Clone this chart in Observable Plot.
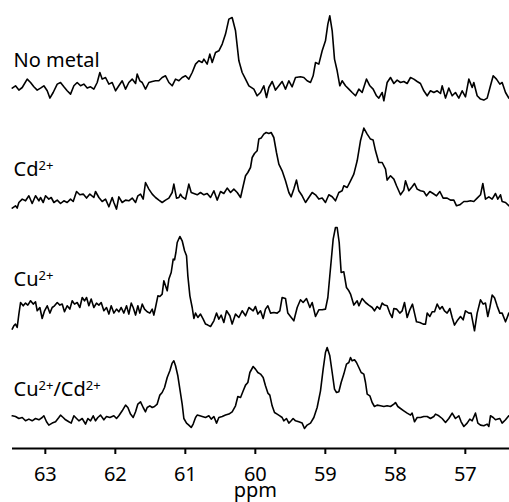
<!DOCTYPE html>
<html>
<head>
<meta charset="utf-8">
<script src="https://cdn.jsdelivr.net/npm/d3@7"></script>
<script src="https://cdn.jsdelivr.net/npm/@observablehq/plot@0.6"></script>
<style>
  html, body { margin: 0; padding: 0; background: #fff; }
</style>
</head>
<body>
<script>
const spectra = ["No metal", "Cd²⁺", "Cu²⁺", "Cu²⁺/Cd²⁺"];
const labelIntensity = [23.7, 24, 23, 22];
const xTicks = [63, 62, 61, 60, 59, 58, 57];
const axisTitle = "ppm";
const axisTitlePpm = 60;

const ppmNoMetal = [63.473,63.426,63.378,63.330,63.259,63.211,63.164,63.116,63.069,63.021,62.973,62.935,62.888,62.830,62.783,62.735,62.688,62.640,62.592,62.545,62.497,62.450,62.402,62.354,62.307,62.259,62.221,62.188,62.140,62.092,62.045,61.997,61.950,61.902,61.854,61.807,61.759,61.711,61.688,61.650,61.616,61.569,61.521,61.473,61.426,61.378,61.331,61.283,61.235,61.188,61.140,61.092,61.045,60.997,60.950,60.902,60.854,60.807,60.759,60.735,60.688,60.650,60.616,60.569,60.521,60.473,60.426,60.378,60.331,60.283,60.235,60.188,60.140,60.092,
60.021,59.974,59.926,59.879,59.840,59.807,59.759,59.712,59.664,59.617,59.569,59.521,59.474,59.426,59.355,59.307,59.260,59.212,59.174,59.140,59.093,59.045,58.998,58.964,58.936,58.902,58.869,58.831,58.793,58.760,58.712,58.664,58.617,58.569,58.521,58.474,58.412,58.364,58.317,58.269,58.236,58.188,58.164,58.117,58.069,58.021,57.974,57.926,57.879,57.831,57.783,57.736,57.688,57.641,57.593,57.545,57.498,57.450,57.402,57.355,57.331,57.283,57.236,57.188,57.141,57.093,57.045,56.998,56.950,56.902,56.879,56.831,56.783,56.736,56.688,56.641,56.602,56.555,56.507,56.474,56.426,56.379];
const intNoMetal = [2.7,5.0,0.7,3.3,11.7,8.3,4.0,0.7,2.7,5.0,0.0,-7.3,-1.7,6.7,8.3,4.0,0.0,-3.3,5.0,8.3,5.0,6.7,2.7,4.0,1.7,8.3,18.3,11.7,13.3,6.7,8.3,0.0,5.0,10.0,1.7,8.3,11.7,7.3,16.7,10.0,8.3,1.7,8.3,9.3,10.0,10.0,13.3,15.0,8.3,5.0,11.7,10.0,13.3,15.0,11.7,18.3,26.7,30.0,28.3,31.7,26.7,36.7,28.3,38.3,40.0,46.7,56.7,71.7,73.3,60.0,30.0,18.3,11.7,5.0,
1.7,-5.0,-1.7,5.0,-6.7,3.3,9.3,0.7,5.0,9.3,1.7,10.0,4.0,13.3,14.0,13.3,10.0,8.3,15.0,28.3,26.7,40.0,50.0,66.7,75.0,60.0,31.7,20.0,5.0,10.0,5.0,1.7,-1.7,-5.0,1.7,-1.7,11.7,5.0,1.7,-5.0,-7.3,-1.7,-10.0,8.3,13.3,7.3,10.7,8.3,9.3,7.3,13.3,11.7,9.3,7.3,0.0,-5.0,0.0,-1.7,0.0,-2.7,5.0,-7.3,2.7,-5.0,-1.7,-7.3,0.0,-6.0,11.7,3.3,8.3,-5.0,-8.3,-9.3,-7.3,5.0,15.0,11.7,6.7,8.3,-1.7,-7.3];

const ppmCd = [63.473,63.426,63.402,63.378,63.330,63.283,63.235,63.188,63.140,63.092,63.069,63.030,62.997,62.950,62.916,62.878,62.830,62.783,62.735,62.688,62.640,62.602,62.554,62.507,62.459,62.411,62.364,62.307,62.283,62.235,62.188,62.140,62.092,62.045,62.021,61.983,61.950,61.902,61.854,61.807,61.759,61.711,61.678,61.640,61.602,61.569,61.521,61.473,61.426,61.378,61.331,61.283,61.235,61.188,61.164,61.126,61.092,61.069,61.045,60.997,60.950,60.916,60.878,60.830,60.783,60.735,60.688,60.640,60.592,60.545,60.497,60.450,60.402,60.354,60.307,60.259,60.211,60.173,60.140,60.107,
60.069,60.045,60.012,59.974,59.950,59.917,59.879,59.845,59.807,59.774,59.736,59.698,59.664,59.617,59.569,59.521,59.488,59.450,59.412,59.379,59.331,59.283,59.236,59.188,59.140,59.093,59.045,58.998,58.950,58.902,58.855,58.807,58.760,58.736,58.688,58.640,58.593,58.545,58.498,58.450,58.402,58.355,58.317,58.283,58.236,58.188,58.140,58.117,58.069,58.021,57.983,57.926,57.879,57.855,57.807,57.760,57.726,57.688,57.641,57.593,57.555,57.507,57.460,57.412,57.364,57.317,57.260,57.212,57.164,57.126,57.079,57.021,56.974,56.926,56.879,56.831,56.783,56.750,56.712,56.664,56.617,56.569,56.536,56.498,56.474,56.426,56.379];
const intCd = [-8.3,-6.0,-8.3,-2.7,0.7,-1.0,4.0,-3.7,4.0,-1.0,2.3,-2.7,4.0,0.7,2.3,-2.7,-0.3,-3.7,-1.0,-2.7,0.7,-1.7,8.3,5.0,5.7,1.7,5.7,2.3,8.3,2.3,-1.7,0.7,-7.0,2.3,-2.7,-9.3,3.0,-2.7,-0.3,-1.0,1.7,-2.7,4.0,5.7,0.7,17.3,10.7,5.7,2.3,-0.3,-2.7,-0.3,1.7,7.3,15.7,1.7,2.3,5.7,3.0,0.7,15.7,7.3,6.3,5.0,7.3,5.0,6.3,2.3,9.0,-0.3,8.3,6.3,11.7,7.3,10.7,7.3,2.3,14.0,24.0,27.3,
32.3,42.3,46.3,49.0,60.7,61.7,65.7,67.3,66.3,67.3,62.3,47.3,35.7,29.0,19.0,7.3,3.0,10.7,19.7,9.0,4.0,-2.7,2.3,7.3,5.0,0.7,1.7,-2.7,5.0,3.0,-1.0,7.3,9.0,14.0,12.3,19.0,25.7,39.0,59.0,71.7,65.7,60.7,59.7,49.0,37.3,37.3,30.7,19.7,24.0,20.7,14.0,5.0,9.7,19.0,9.0,13.0,16.3,10.7,9.0,8.3,4.0,8.3,6.3,4.0,8.3,1.7,1.7,-0.3,-0.3,-6.0,-5.0,-1.7,-1.7,-1.0,-1.7,1.7,5.0,16.3,0.7,3.0,0.7,6.3,0.7,5.0,-1.7,-2.7,-6.0];

const ppmCu = [63.473,63.450,63.426,63.402,63.378,63.354,63.316,63.283,63.250,63.211,63.173,63.140,63.116,63.078,63.045,63.011,62.973,62.935,62.902,62.869,62.830,62.792,62.759,62.726,62.688,62.650,62.616,62.583,62.545,62.507,62.473,62.440,62.411,62.378,62.345,62.307,62.269,62.235,62.202,62.164,62.126,62.092,62.059,62.021,61.983,61.950,61.916,61.878,61.840,61.807,61.773,61.745,61.711,61.678,61.650,61.616,61.583,61.545,61.507,61.473,61.450,61.426,61.392,61.364,61.331,61.307,61.283,61.259,61.235,61.202,61.173,61.154,61.135,61.116,61.078,61.045,61.011,60.983,60.964,60.935,60.902,60.878,60.854,60.821,60.783,60.745,60.711,60.678,60.640,60.592,60.554,60.521,60.488,60.450,60.411,60.364,60.331,60.283,60.235,60.188,60.140,60.092,
60.031,59.998,59.964,59.926,59.888,59.855,59.821,59.783,59.736,59.688,59.650,59.617,59.569,59.536,59.498,59.450,59.402,59.355,59.317,59.269,59.221,59.188,59.140,59.093,59.045,58.998,58.964,58.936,58.912,58.888,58.855,58.831,58.802,58.774,58.736,58.698,58.664,58.640,58.593,58.545,58.521,58.474,58.426,58.379,58.331,58.298,58.260,58.221,58.188,58.155,58.117,58.079,58.045,58.021,57.983,57.936,57.902,57.869,57.831,57.793,57.755,57.726,57.698,57.650,57.602,57.569,57.545,57.507,57.474,57.440,57.402,57.364,57.331,57.298,57.260,57.221,57.188,57.155,57.117,57.069,57.031,56.998,56.950,56.917,56.869,56.831,56.783,56.745,56.712,56.679,56.650,56.617,56.583,56.545,56.507,56.474,56.426,56.402,56.379];
const intCu = [-20.3,-17.0,-15.3,-18.7,-5.3,6.3,3.0,5.7,3.7,8.0,4.7,7.0,-2.0,1.3,-9.7,-2.0,3.0,-4.3,1.3,3.0,6.3,3.7,4.7,-3.0,3.0,-0.3,8.0,4.7,6.3,1.3,11.3,8.0,11.3,3.0,9.7,1.3,5.7,3.7,6.3,-2.0,1.3,-5.3,3.0,-4.3,-0.3,-3.0,1.3,-4.3,3.0,-5.3,5.7,1.3,-6.3,3.0,-4.3,4.7,-0.3,-3.0,-4.3,-0.3,-6.3,1.3,13.0,12.3,14.7,28.0,23.0,18.0,29.7,36.3,49.7,49.0,56.3,66.3,72.3,68.0,58.0,53.0,33.0,13.0,1.3,-9.7,-4.3,-8.7,-5.3,-10.3,-15.3,-16.3,-17.7,-12.0,-4.3,-10.3,-6.3,-13.7,-2.0,-7.0,-15.3,-5.3,-8.7,-2.0,-7.0,1.3,
-2.0,2.3,-5.3,-2.0,-9.7,-0.3,3.0,-4.3,-3.7,-4.3,-2.0,11.3,10.3,-4.3,-7.7,-12.0,1.3,9.0,6.3,10.3,1.3,6.3,-7.7,-1.0,-1.0,-0.3,11.3,33.0,51.3,69.7,81.3,81.3,66.3,36.3,37.0,21.3,18.0,14.7,3.7,8.0,3.0,10.3,6.3,3.7,1.3,-2.0,2.3,-0.3,5.7,3.7,3.0,-4.3,-8.7,0.3,-0.3,-4.3,-2.0,6.3,-8.7,-1.0,4.7,-4.3,-13.0,-13.7,-15.3,-15.3,-4.3,-7.7,-3.0,-3.0,4.7,-0.3,2.3,-2.0,-4.3,0.3,-8.7,-16.3,-12.0,-7.7,-11.0,-2.0,-4.3,-4.3,-22.0,-4.3,9.0,4.7,5.7,-7.7,1.3,13.7,11.0,2.7,-4.3,-4.3,-13.0,-8.7,-4.3];

const ppmCuCd = [63.473,63.426,63.378,63.330,63.283,63.235,63.188,63.140,63.092,63.045,63.021,62.983,62.950,62.902,62.854,62.807,62.783,62.745,62.711,62.664,62.630,62.592,62.554,62.521,62.473,62.426,62.392,62.354,62.316,62.283,62.250,62.211,62.164,62.126,62.078,62.021,61.983,61.950,61.902,61.854,61.821,61.783,61.745,61.711,61.678,61.640,61.602,61.569,61.545,61.507,61.473,61.440,61.402,61.364,61.331,61.297,61.259,61.221,61.188,61.164,61.140,61.107,61.078,61.045,61.021,60.983,60.950,60.916,60.888,60.854,60.831,60.792,60.759,60.711,60.664,60.630,60.592,60.554,60.521,60.473,60.426,60.378,60.331,60.283,60.250,60.211,60.173,60.140,60.107,60.078,
60.031,59.998,59.964,59.926,59.888,59.855,59.821,59.793,59.760,59.726,59.688,59.650,59.617,59.593,59.555,59.521,59.488,59.460,59.426,59.379,59.331,59.298,59.260,59.212,59.164,59.117,59.069,59.031,58.998,58.974,58.936,58.902,58.869,58.840,58.807,58.774,58.736,58.698,58.664,58.640,58.617,58.583,58.555,58.521,58.488,58.450,58.426,58.402,58.364,58.331,58.298,58.260,58.212,58.164,58.117,58.069,58.021,57.998,57.964,57.926,57.879,57.831,57.783,57.760,57.726,57.688,57.641,57.593,57.545,57.498,57.450,57.426,57.379,57.331,57.283,57.236,57.188,57.141,57.093,57.060,57.021,56.974,56.936,56.902,56.855,56.821,56.783,56.736,56.688,56.664,56.641,56.602,56.569,56.536,56.507,56.474,56.426,56.379];
const intCuCd = [2.0,1.3,-0.7,0.3,-3.0,-1.3,-3.0,-0.7,-2.0,0.3,2.0,-4.0,-7.3,-5.3,-4.0,0.3,2.7,0.3,-2.0,-4.0,-5.3,2.0,-0.7,-3.0,-0.7,-6.3,-0.7,-3.0,2.0,-3.0,0.3,2.7,-2.0,1.3,0.3,2.0,-0.7,2.0,7.0,12.7,10.3,3.7,0.3,6.0,13.7,16.0,10.3,6.0,10.3,12.0,10.3,11.3,13.7,22.7,25.3,30.3,40.3,47.0,54.7,57.0,52.0,42.0,28.7,13.7,-0.7,-5.3,-7.3,-9.7,-6.3,0.3,2.7,2.0,1.3,0.3,2.0,-1.3,1.3,-5.3,0.3,1.3,2.7,3.7,6.0,12.0,21.3,20.3,27.0,32.7,35.3,45.3,
51.3,48.7,45.3,43.7,40.3,32.0,24.7,22.7,12.0,5.3,3.7,2.0,0.3,-3.0,-0.7,-5.3,-3.0,-0.7,-3.0,-4.0,-5.3,-10.7,-7.3,-5.3,0.3,10.3,27.0,48.7,65.3,70.3,62.0,45.3,28.7,25.3,26.0,35.3,43.7,53.7,55.3,60.3,57.0,58.0,55.3,50.3,45.3,43.7,35.3,23.7,22.0,15.3,11.3,12.7,12.0,11.3,12.0,11.3,13.7,15.3,11.3,9.3,7.0,4.7,2.7,4.7,-4.0,0.3,0.3,1.3,1.3,-0.7,1.3,3.7,2.0,-0.7,-4.7,-0.7,4.7,-0.7,2.0,-4.0,-8.7,-5.3,-1.3,-3.0,4.7,-5.3,-7.3,-8.0,-6.3,-8.7,2.0,0.3,-2.0,-1.3,-0.7,-5.3,-2.0,2.0];

const ppmSets = [ppmNoMetal, ppmCd, ppmCu, ppmCuCd];
const intSets = [intNoMetal, intCd, intCu, intCuCd];

const rows = spectra.flatMap((s, i) =>
  ppmSets[i].map((p, j) => ({spectrum: s, ppm: p, intensity: intSets[i][j]}))
);
const labels = spectra.map((s, i) => ({spectrum: s, y: labelIntensity[i]}));
const last = spectra[spectra.length - 1];
const yMin = -30.7, yMax = 78.3;

const chart = Plot.plot({
  width: 509,
  height: 502,
  marginLeft: 12,
  marginRight: 0,
  marginTop: 12,
  marginBottom: 54,
  style: {fontFamily: "'Noto Sans', sans-serif", fontSize: "20px", color: "black", background: "white"},
  x: {domain: [63.469, 56.369]},
  y: {domain: [yMin, yMax], axis: null},
  fy: {domain: spectra, padding: 0, axis: null},
  marks: [
    Plot.line(rows, {x: "ppm", y: "intensity", fy: "spectrum", stroke: "black", strokeWidth: 1.6, strokeLinejoin: "round"}),
    Plot.text(labels, {text: "spectrum", fy: "spectrum", y: "y", frameAnchor: "left", textAnchor: "start", lineAnchor: "bottom", dx: 1, fontSize: 20, className: "spec-label"}),
    Plot.ruleY([{spectrum: last, v: yMin}], {y: "v", fy: "spectrum", stroke: "black", strokeWidth: 2}),
    Plot.axisX({anchor: "bottom", ticks: xTicks, tickSize: 6, tickPadding: 12, fontSize: 20, strokeWidth: 2, label: null, tickFormat: d => String(d)}),
    Plot.text([{spectrum: last, x: axisTitlePpm, t: axisTitle}], {x: "x", fy: "spectrum", text: "t", frameAnchor: "bottom", dy: 48, lineAnchor: "bottom", fontSize: 20})
  ]
});
document.body.appendChild(chart);

// Render the ion charges as true superscripts (larger than the Unicode glyphs)
d3.select(chart).selectAll(".spec-label text").each(function () {
  const t = this.textContent;
  if (!t.includes("²⁺")) return;
  const parts = t.split(/(²⁺)/).filter(p => p.length);
  const sel = d3.select(this);
  sel.text(null);
  let raised = false;
  for (const p of parts) {
    if (p === "²⁺") {
      sel.append("tspan").attr("font-size", 13).attr("dy", raised ? 0 : -6).text("2+");
      raised = true;
    } else {
      sel.append("tspan").attr("dy", raised ? 6 : 0).text(p);
      raised = false;
    }
  }
});
</script>
</body>
</html>
